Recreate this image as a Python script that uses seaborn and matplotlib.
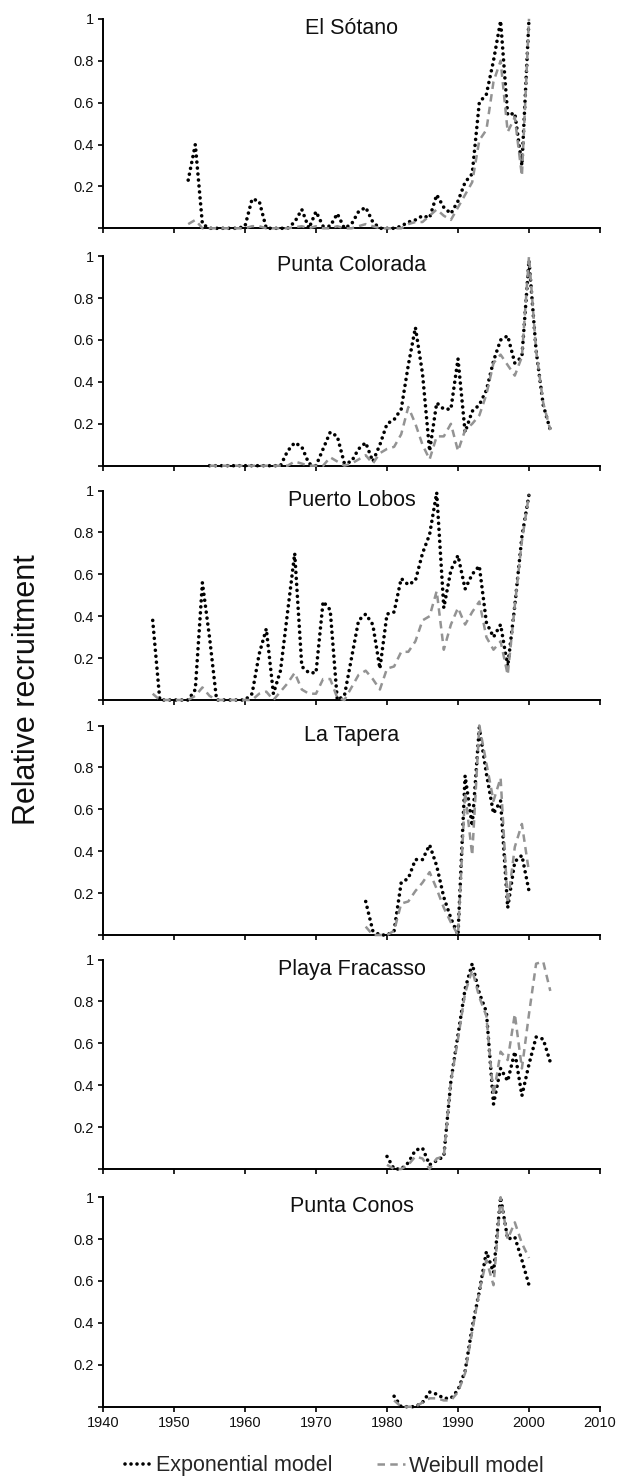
import matplotlib
matplotlib.use("Agg")
import matplotlib.pyplot as plt
import seaborn as sns

# ---------------- data ----------------
site_names = ["El Sótano", "Punta Colorada", "Puerto Lobos",
              "La Tapera", "Playa Fracasso", "Punta Conos"]
first_years = [1952, 1955, 1947, 1977, 1980, 1981]

sotano_exp = [0.23, 0.40, 0.02, 0, 0, 0, 0, 0,
              0.01, 0.14, 0.13, 0, 0, 0, 0, 0.03, 0.09, 0.0,
              0.08, 0.01, 0.01, 0.07, 0.0, 0.02, 0.08, 0.10, 0.03, 0.0,
              0, 0, 0.01, 0.03, 0.04, 0.06, 0.05, 0.16, 0.10, 0.07,
              0.13, 0.22, 0.26, 0.60, 0.64, 0.80, 0.99, 0.54, 0.55, 0.30,
              1.0]
sotano_wei = [0.02, 0.04, 0.0, 0, 0, 0, 0, 0,
              0, 0.01, 0.01, 0, 0, 0, 0, 0.005, 0.01, 0,
              0.01, 0, 0, 0.01, 0, 0, 0.01, 0.02, 0.01, 0,
              0, 0, 0, 0.02, 0.03, 0.03, 0.06, 0.09, 0.06, 0.04,
              0.10, 0.16, 0.22, 0.42, 0.47, 0.70, 0.80, 0.46, 0.53, 0.25,
              1.0]

colorada_exp = [0, 0, 0, 0, 0,
                0, 0, 0, 0, 0, 0, 0.07, 0.11, 0.09, 0.01,
                0.0, 0.08, 0.16, 0.14, 0.01, 0.02, 0.08, 0.11, 0.02, 0.10,
                0.20, 0.22, 0.27, 0.48, 0.66, 0.44, 0.07, 0.30, 0.27, 0.27,
                0.51, 0.16, 0.26, 0.29, 0.36, 0.50, 0.60, 0.62, 0.49, 0.52,
                0.98, 0.55, 0.29, 0.17]
colorada_wei = [0, 0, 0, 0, 0,
                0, 0, 0, 0, 0, 0, 0.0, 0.02, 0.01, 0,
                0, 0, 0.04, 0.02, 0, 0.01, 0.03, 0.05, 0.01, 0.06,
                0.08, 0.09, 0.15, 0.28, 0.20, 0.10, 0.03, 0.14, 0.14, 0.20,
                0.07, 0.17, 0.20, 0.24, 0.34, 0.49, 0.53, 0.48, 0.43, 0.52,
                1.0, 0.55, 0.30, 0.17]

lobos_exp = [0.38, 0.0, 0.0,
             0, 0, 0, 0.05, 0.56, 0.30, 0.0, 0, 0, 0,
             0, 0.03, 0.22, 0.34, 0.03, 0.14, 0.42, 0.70, 0.16, 0.13,
             0.13, 0.47, 0.43, 0.0, 0.02, 0.20, 0.38, 0.41, 0.36, 0.15,
             0.41, 0.42, 0.58, 0.55, 0.57, 0.70, 0.79, 0.99, 0.44, 0.62,
             0.69, 0.53, 0.60, 0.64, 0.37, 0.30, 0.36, 0.16, 0.45, 0.78,
             0.98]
lobos_wei = [0.03, 0, 0,
             0, 0, 0, 0.02, 0.06, 0.02, 0, 0, 0, 0,
             0, 0, 0.03, 0.04, 0.0, 0.04, 0.08, 0.13, 0.05, 0.03,
             0.03, 0.10, 0.10, 0.01, 0.0, 0.06, 0.12, 0.14, 0.10, 0.05,
             0.15, 0.16, 0.23, 0.23, 0.28, 0.38, 0.40, 0.52, 0.24, 0.36,
             0.44, 0.36, 0.42, 0.47, 0.30, 0.24, 0.28, 0.12, 0.45, 0.76,
             0.98]

tapera_exp = [0.16, 0.02, 0.0, 0.0, 0.02, 0.25, 0.27, 0.36, 0.36, 0.43, 0.33, 0.18,
              0.08, 0.0, 0.76, 0.52, 0.99, 0.77, 0.58, 0.64, 0.13, 0.35, 0.38, 0.21]
tapera_wei = [0.04, 0.0, 0.0, 0.0, 0.02, 0.15, 0.16, 0.21, 0.25, 0.30, 0.22, 0.13,
              0.06, 0.0, 0.68, 0.38, 1.0, 0.82, 0.64, 0.75, 0.15, 0.42, 0.53, 0.30]

fracasso_exp = [0.06, 0.0, 0.0, 0.03, 0.09, 0.10, 0.02, 0.04, 0.06, 0.42, 0.64, 0.86,
                0.98, 0.84, 0.75, 0.31, 0.48, 0.42, 0.56, 0.35, 0.50, 0.63, 0.62, 0.51]
fracasso_wei = [0.02, 0.0, 0.0, 0.02, 0.06, 0.05, 0.0, 0.05, 0.06, 0.42, 0.62, 0.84,
                0.95, 0.82, 0.73, 0.35, 0.56, 0.52, 0.74, 0.48, 0.74, 0.98, 0.99, 0.85]

conos_exp = [0.05, 0.0, 0.0, 0.0, 0.02, 0.07, 0.06, 0.04, 0.04, 0.08,
             0.17, 0.38, 0.55, 0.74, 0.64, 1.0, 0.80, 0.81, 0.70, 0.58]
conos_wei = [0.03, 0.0, 0.0, 0.0, 0.02, 0.04, 0.04, 0.03, 0.03, 0.07,
             0.16, 0.36, 0.55, 0.70, 0.58, 1.0, 0.80, 0.88, 0.78, 0.71]

exp_series = [sotano_exp, colorada_exp, lobos_exp, tapera_exp, fracasso_exp, conos_exp]
wei_series = [sotano_wei, colorada_wei, lobos_wei, tapera_wei, fracasso_wei, conos_wei]

x_ticks = [1940, 1950, 1960, 1970, 1980, 1990, 2000, 2010]
y_ticks = [0, 0.2, 0.4, 0.6, 0.8, 1.0]
y_tick_labels = ["", "0.2", "0.4", "0.6", "0.8", "1"]

# ---------------- style ----------------
sns.set_style("ticks")
plt.rcParams["font.family"] = ["Liberation Sans", "DejaVu Sans"]

W, H = 633, 1481
fig = plt.figure(figsize=(W / 100, H / 100), dpi=100)

zero_lines = [228.3, 465.7, 700.0, 935.0, 1169.0, 1406.7]
ax_h = 209.5
left_px, right_px = 103, 600

axes = []
for i, name in enumerate(site_names):
    y0 = zero_lines[i]
    ax = fig.add_axes([left_px / W, 1 - y0 / H, (right_px - left_px) / W, ax_h / H])
    axes.append(ax)
    years = list(range(first_years[i], first_years[i] + len(exp_series[i])))
    sns.lineplot(x=years, y=exp_series[i], ax=ax, color="black", lw=2.6,
                 linestyle=(0, (0.01, 1.65)), dash_capstyle="round",
                 label="Exponential model", legend=False, clip_on=False, zorder=3)
    sns.lineplot(x=years, y=wei_series[i], ax=ax, color="#939393", lw=1.8,
                 linestyle=(0, (3.0, 2.1)), label="Weibull model",
                 legend=False, clip_on=False, zorder=4)
    ax.set_xlim(1940, 2010)
    ax.set_ylim(0, 1)
    ax.set_xticks(x_ticks)
    ax.set_yticks(y_ticks)
    ax.set_yticklabels(y_tick_labels)
    if i < len(site_names) - 1:
        ax.set_xticklabels([])
    ax.set_xlabel("")
    ax.set_ylabel("")
    for s in ["top", "right"]:
        ax.spines[s].set_visible(False)
    for s in ["left", "bottom"]:
        ax.spines[s].set_color("black")
        ax.spines[s].set_linewidth(1.4)
    ax.tick_params(axis="both", direction="out", length=3.5, width=1.2,
                   color="black", labelsize=10.5, pad=3, labelcolor="#111111")
    ax.patch.set_alpha(0)
    ax.text(0.5, 1 - 15 / ax_h, name, transform=ax.transAxes, ha="center",
            va="baseline", fontsize=15.5, color="#111111")

fig.text(27 / W, 1 - 690 / H, "Relative recruitment", rotation=90,
         ha="center", va="center", fontsize=22, color="#111111")

handles, labels = axes[0].get_legend_handles_labels()
fig.legend(handles, labels, loc="center", bbox_to_anchor=(334 / W, 1 - 1466 / H),
           ncol=2, frameon=False, fontsize=15.5, handlelength=1.3,
           handletextpad=0.15, columnspacing=2.1, borderaxespad=0, borderpad=0)

fig.savefig("out.png", dpi=100)
